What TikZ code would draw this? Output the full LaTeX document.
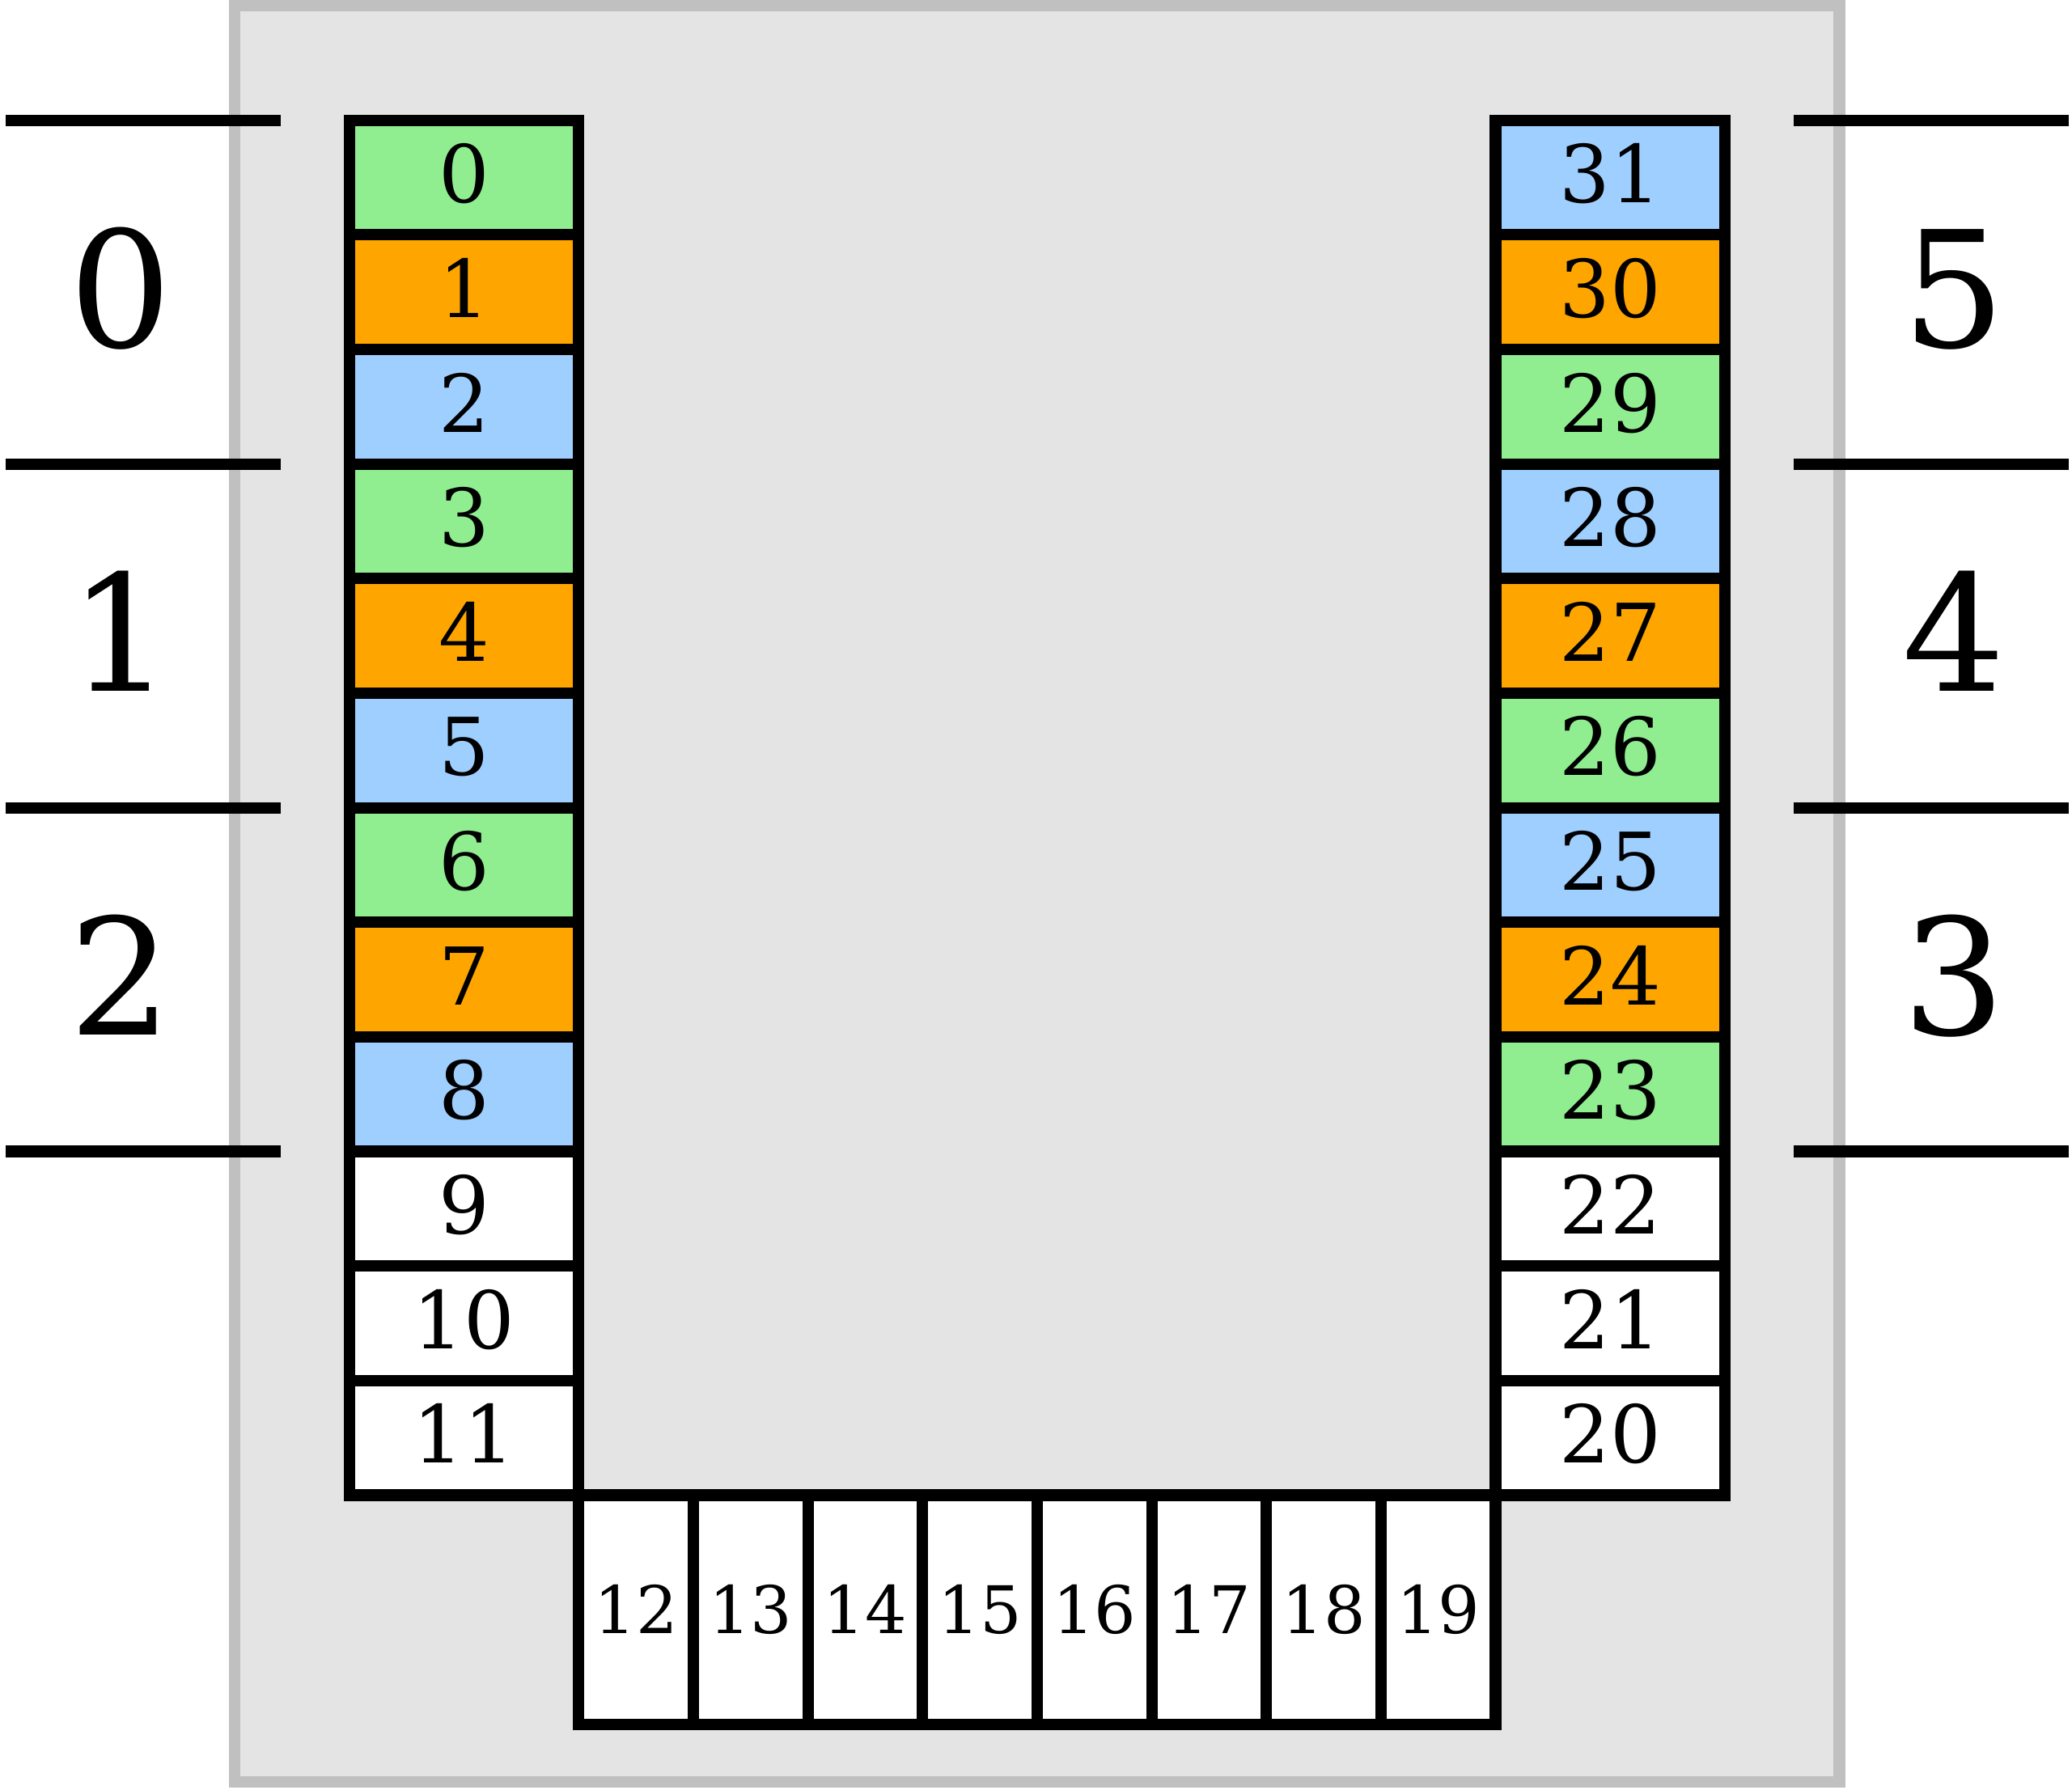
\documentclass[tikz,border=0pt]{standalone}
\usepackage{fontspec}
\setmainfont{DejaVu Serif}
\definecolor{cellgreen}{HTML}{90EE90}
\definecolor{cellorange}{HTML}{FFA500}
\definecolor{cellblue}{HTML}{9ECFFF}
\definecolor{boardgray}{HTML}{E4E4E4}
\definecolor{bordergray}{HTML}{C0C0C0}

\begin{document}
\begin{tikzpicture}[line width=0.1cm,
  cell/.style={draw, fill=white, inner sep=0pt, minimum width=2cm, minimum height=1cm, text height=0.51cm, text depth=0.07cm, font=\fontsize{19.8}{24}\selectfont},
  bottomcell/.style={cell, minimum width=1cm, minimum height=2cm, text height=0.42cm, text depth=0.01cm, font=\fontsize{16.3}{20}\selectfont},
  group/.style={inner sep=0pt, text height=1.03cm, text depth=0.06cm, font=\fontsize{40.2}{48}\selectfont}]
\useasboundingbox (-3.05,-14.57) rectangle (15.03,1.05);
\draw[bordergray, fill=boardgray] (-1,1) rectangle (13,-14.5);

\foreach \i/\col in {0/cellgreen,1/cellorange,2/cellblue,3/cellgreen,4/cellorange,5/cellblue,6/cellgreen,7/cellorange,8/cellblue,9/white,10/white,11/white}
  \node (c\i) [cell, fill=\col] at (1,-0.5-\i) {\i};
\foreach \i/\col in {0/cellblue,1/cellorange,2/cellgreen,3/cellblue,4/cellorange,5/cellgreen,6/cellblue,7/cellorange,8/cellgreen,9/white,10/white,11/white} {
  \pgfmathtruncatemacro\n{31-\i}
  \node (c\n) [cell, fill=\col] at (11,-0.5-\i) {\n};
}
\foreach \k in {0,...,7} {
  \pgfmathtruncatemacro\n{12+\k}
  \node (c\n) [bottomcell] at (2.5+\k,-13) {\n};
}

\node (g0) [group] at (-2,-1.5) {0};
\node (g1) [group] at (-2,-4.5) {1};
\node (g2) [group] at (-2,-7.5) {2};
\node (g5) [group] at (14,-1.5) {5};
\node (g4) [group] at (14,-4.5) {4};
\node (g3) [group] at (14,-7.5) {3};

\foreach \y in {0,-3,-6,-9} {
  \draw (-3,\y) -- (-0.6,\y);
  \draw (12.6,\y) -- (15,\y);
}
\end{tikzpicture}
\end{document}
